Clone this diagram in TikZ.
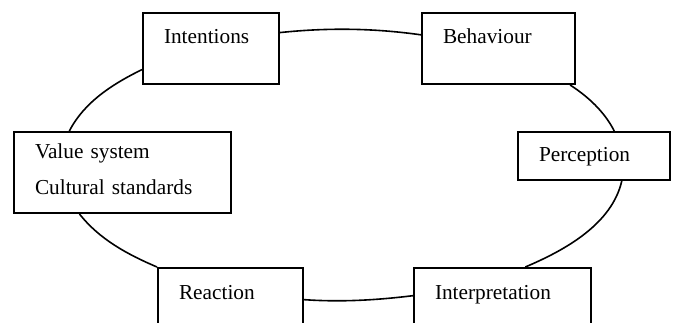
\documentclass[tikz,border=0pt]{standalone}
\usepackage{fontspec}
\setmainfont{Liberation Serif}

\begin{document}
\begin{tikzpicture}[x=1pt,y=1pt,
  boite/.style={draw, line width=2pt, anchor=north west, inner xsep=21pt, inner ysep=0pt,
    align=left, font=\fontsize{21.3}{36}\selectfont},
  lien/.style={line width=1.6pt, looseness=0.87}]
  % Cadre de l'image
  \useasboundingbox (0,0) rectangle (674,322);
  \clip (0,0) rectangle (674,322);

  % Boites du cycle
  \node[boite, text width=94pt, text height=31pt, text depth=40pt] (intentions) at (142,310) {Intentions};
  \node[boite, text width=111pt, text height=31pt, text depth=40pt] (behaviour) at (421,310) {Behaviour};
  \node[boite, text width=110pt, text height=29pt, text depth=19pt] (perception) at (517,191) {Perception};
  \node[boite, text width=135pt, text height=31pt, text depth=40pt] (interpretation) at (413,55) {Interpretation};
  \node[boite, text width=103pt, text height=31pt, text depth=40pt] (reaction) at (157,55) {Reaction};
  \node[boite, text width=175pt, text height=26pt, text depth=55pt] (values) at (13,191) {Value system\\Cultural standards};

  % Arcs de l'ellipse entre les boites
  \draw[lien] (intentions.13) to[out=6,in=172] (behaviour.170);
  \draw[lien] (behaviour.333) to[out=-33,in=117] (perception.51);
  \draw[lien] (perception.318) to[out=-103,in=23] (interpretation.58);
  \draw[lien] (interpretation.175) to[out=187,in=-4] (reaction.3);
  \draw[lien] (reaction.north west) to[out=157,in=-52] (values.224);
  \draw[lien] (values.142) to[out=63,in=206] (intentions.197);
\end{tikzpicture}
\end{document}
